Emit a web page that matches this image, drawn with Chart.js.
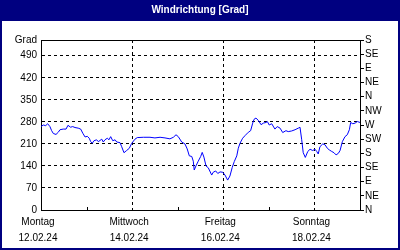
<!DOCTYPE html>
<html><head><meta charset="utf-8">
<script src="https://cdn.jsdelivr.net/npm/chart.js@4"></script>
<style>html,body{margin:0;padding:0;background:#fff;}#wrap{width:400px;height:250px;}</style>
</head><body><div id="wrap"><canvas id="c" width="400" height="250"></canvas></div>
<script>
// hours since Montag 12.02.24 00:00
const hours = [0,1.2,2.5,3.5,4.7,5.6,6.5,7.9,9.1,10.0,11.7,13.2,14.2,15.6,16.7,17.9,19.6,20.9,22.0,23.2,24.4,25.4,26.2,27.0,27.9,29.3,30.2,32.0,32.8,33.7,34.9,35.8,36.7,37.8,39.0,39.9,41.6,42.5,43.7,45.1,46.5,47.8,49.5,50.7,53.9,57.4,60.0,62.7,65.3,67.9,69.7,71.1,72.3,74.1,75.8,77.0,78.1,79.4,80.2,80.7,81.6,82.8,84.1,84.9,85.8,86.9,88.1,89.9,90.7,92.0,93.1,94.3,95.7,96.9,98.3,99.5,100.7,101.8,103.1,103.9,104.8,106.2,107.4,109.2,110.4,111.5,112.2,113.2,114.4,115.9,117.1,118.5,119.2,120.2,121.5,123.2,124.4,125.9,127.3,129.0,130.2,132.0,133.8,135.5,136.4,137.3,138.1,139.2,140.5,141.7,143.1,144.3,145.2,146.0,146.9,148.4,149.6,150.8,151.8,153.1,154.3,155.4,156.6,157.5,158.7,160.1,161.3,162.4,163.1,164.2,165.4,166.6,168.0];
// wind direction in degrees
const direction = [265,270,268,274,265,252,243,240,247,255,257,257,269,263,265,262,260,257,244,232,234,228,217,212,220,223,217,225,216,223,228,223,233,220,223,216,214,201,182,189,196,212,225,230,231,231,229,231,229,226,231,239,233,216,210,194,172,170,155,127,140,155,170,183,168,140,134,111,120,124,116,121,120,111,95,108,135,154,172,196,212,228,236,247,252,276,288,292,285,271,276,278,281,270,274,257,265,260,246,252,249,251,255,260,263,223,182,167,186,193,189,193,186,178,201,210,207,196,191,186,182,175,180,189,217,233,239,255,278,274,276,281,278];
const dayNames = ['Montag','Dienstag','Mittwoch','Donnerstag','Freitag','Samstag','Sonntag','Montag'];
const dayDates = ['12.02.24','13.02.24','14.02.24','15.02.24','16.02.24','17.02.24','18.02.24','19.02.24'];
const compassLabels = ['N','NE','E','SE','S','SW','W','NW','N','NE','E','SE','S'];
const titleText = 'Windrichtung [Grad]';
const unitLabel = 'Grad';

const FONT = {family: '"Liberation Sans", Arial, sans-serif', size: 10};
const points = hours.map((h, i) => ({x: h, y: direction[i]}));

const framePlugin = {
  id: 'frame',
  beforeDraw(chart) {
    const c = chart.ctx;
    c.save();
    c.fillStyle = '#fff'; c.fillRect(0, 0, 400, 250);
    c.fillStyle = '#000080'; c.fillRect(0, 0, 400, 21);
    c.restore();
  },
  afterDraw(chart) {
    const c = chart.ctx, a = chart.chartArea;
    c.save();
    c.strokeStyle = '#000'; c.lineWidth = 1;
    c.beginPath();
    c.moveTo(Math.round(a.left) + 0.5, Math.round(a.top) + 0.5);
    c.lineTo(Math.round(a.right) + 0.5, Math.round(a.top) + 0.5);
    // minor ticks at odd days on bottom axis
    const xs = chart.scales.x;
    for (let d = 1; d < 7; d += 2) {
      const px = Math.round(xs.getPixelForValue(d * 24)) + 0.5;
      c.moveTo(px, Math.round(a.bottom));
      c.lineTo(px, Math.round(a.bottom) - 3);
    }
    c.stroke();
    c.strokeStyle = '#000080'; c.lineWidth = 2;
    c.strokeRect(1, 1, 398, 248);
    c.restore();
  }
};

new Chart(document.getElementById('c'), {
  type: 'line',
  data: {datasets: [{data: points, borderColor: '#0000ff', borderWidth: 1, pointRadius: 0, tension: 0, fill: false}]},
  plugins: [framePlugin],
  options: {
    responsive: false, devicePixelRatio: 1, animation: false,
    layout: {padding: 0},
    plugins: {
      legend: {display: false}, tooltip: {enabled: false},
      title: {display: true, text: titleText, color: '#fff', font: {family: FONT.family, size: 10, weight: 'bold'}, padding: {top: 4, bottom: 24}}
    },
    scales: {
      x: {
        type: 'linear', min: 0, max: 168,
        afterFit(s) { s.height = 40; },
        ticks: {stepSize: 24, autoSkip: false, maxRotation: 0, color: '#000', font: {family: FONT.family, size: 10, lineHeight: 1.6}, padding: 4, labelOffset: -3,
          callback: (v) => (v % 48 === 0 && v < 168) ? [dayNames[v / 24], dayDates[v / 24]] : ''},
        grid: {drawTicks: false, color: (c) => (c.tick && c.tick.value % 48 === 0 && c.tick.value > 0 && c.tick.value < 168) ? '#000' : 'rgba(0,0,0,0)'},
        border: {display: true, color: '#000', width: 1, dash: [3, 3]}
      },
      y: {
        position: 'left', min: 0, max: 540,
        afterFit(s) { s.width = 41; },
        ticks: {stepSize: 70, autoSkip: false, color: '#000', font: FONT, padding: 4,
          callback: (v) => v === 540 ? unitLabel : String(v)},
        grid: {drawTicks: false, color: (c) => (c.tick && c.tick.value > 0 && c.tick.value < 540) ? '#000' : 'rgba(0,0,0,0)'},
        border: {display: true, color: '#000', width: 1, dash: [3, 3]}
      },
      y2: {
        position: 'right', min: 0, max: 540,
        afterFit(s) { s.width = 40; },
        ticks: {stepSize: 45, autoSkip: false, color: '#000', font: FONT, padding: 1,
          callback: (v) => compassLabels[Math.round(v / 45)]},
        grid: {drawOnChartArea: false, drawTicks: true, tickLength: 4, color: '#000'},
        border: {display: true, color: '#000', width: 1}
      }
    }
  }
});
</script></body></html>
